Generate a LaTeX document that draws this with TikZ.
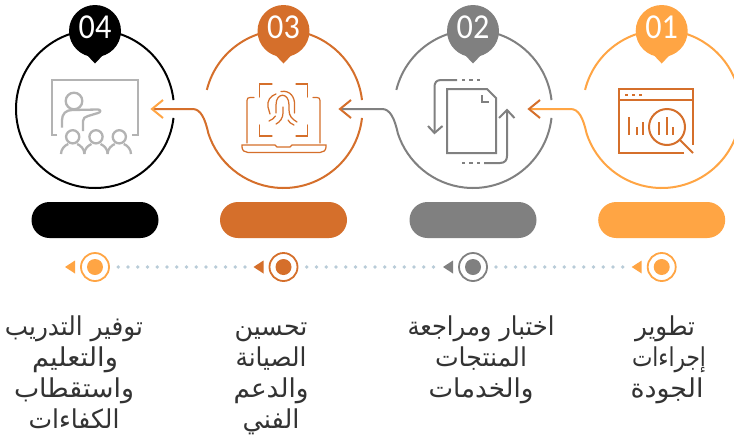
\documentclass[tikz,border=0pt]{standalone}
\usepackage{fontspec}
\usepackage{graphicx}
\usetikzlibrary{shapes.misc,calc}
\TeXXeTstate=1
\newfontfamily\arabicfont[Script=Arabic]{DejaVu Sans}
\newfontfamily\numfont{Carlito}
\definecolor{lightor}{HTML}{FFA544}
\definecolor{darkor}{HTML}{D56F2B}
\definecolor{midgray}{HTML}{808080}
\definecolor{icongray}{HTML}{B3B3B3}
\definecolor{dotc}{HTML}{B9CCD8}
\definecolor{txt}{HTML}{333333}
\tikzset{
  ring/.style={line width=2pt},
  pinball/.style={circle,minimum size=52pt,inner sep=0pt},
  pinnum/.style={text=white,inner sep=0pt,font=\numfont\fontsize{35}{35}\selectfont},
  pill/.style={rounded rectangle,minimum width=127pt,minimum height=36pt,inner sep=0pt},
  target/.style={circle,draw,line width=1.8pt,fill=white,minimum size=28pt,inner sep=0pt},
  coredot/.style={circle,minimum size=16pt,inner sep=0pt},
  arline/.style={inner sep=0pt,text=txt,anchor=base},
  chev/.style={line width=2pt,line join=miter},
  gicon/.style={line width=2.3pt,icongray,line join=miter},
  oicon/.style={line width=1.25pt,darkor,line cap=round},
  dicon/.style={line width=2pt,midgray},
  wicon/.style={line width=2pt,darkor},
  tdot/.style={fill=dotc},
}
\newsavebox\arbox
\newcommand{\ar}[2]{\sbox\arbox{\arabicfont\fontsize{26}{26}\selectfont #2}%
  \pgfmathsetmacro\arsx{#1/\the\wd\arbox}\scalebox{\arsx}[1]{\usebox\arbox}}
\newcommand{\ringtail}[4]{% name, cx, colour, tip x
  \coordinate (tip#1) at (#4,109);
  \draw[ring,#3] (#2,109) ++(194:79) arc[start angle=194,end angle=353.5,radius=79];
  \draw[ring,#3] (#2,109) ++(6.5:79) arc[start angle=6.5,end angle=162,radius=79]
     .. controls (#2-78.5,118) and (#2-83,109) .. (#2-91,109) -- (tip#1);
}
\newcommand{\chevron}[2]{% tip name, colour
  \draw[chev,#2] ($(#1)+(11,-9)$) -- (#1) -- ($(#1)+(11,9)$);
}
\newcommand{\pin}[3]{% name, cx, colour
  \fill[#3] (#2-9,54) -- (#2,63.5) -- (#2+9,54) -- cycle;
  \node[pinball,fill=#3] (pin#1) at (#2,31) {};
  \node[pinnum] (num#1) at (#2,27.5) {\scalebox{.92}[1]{0#1}};
}
\begin{document}
\begin{tikzpicture}[x=1pt,y=-1pt]
\useasboundingbox (0,0) rectangle (734,445);
\fill[white] (0,0) rectangle (734,445);

% ---- rings
\draw[ring,black] (95,109) ++(-6.5:79) arc[start angle=-6.5,end angle=-353.5,radius=79];
\ringtail{3}{283.5}{darkor}{152}
\ringtail{2}{473}{midgray}{340}
\ringtail{1}{661.7}{lightor}{529}
\chevron{tip3}{lightor}
\chevron{tip2}{darkor}
\chevron{tip1}{darkor}

% ---- pins
\pin{4}{95}{black}
\pin{3}{283.5}{darkor}
\pin{2}{473}{midgray}
\pin{1}{661.7}{lightor}

% ---- icon 04
\draw[gicon] (57,135) -- (52,135) -- (52,80) -- (138,80) -- (138,135) -- (132,135);
\draw[gicon] (74,101) circle[radius=8.3];
\draw[gicon,line join=round] (62,127.5) -- (62,120) .. controls (62,114) and (66,110) .. (72,110)
  -- (98,109.5) .. controls (101,109.5) and (101,112.5) .. (98,113) -- (88,116) .. controls (85,117) and (83,118) .. (83,121) -- (83,131);
\foreach \hx in {72.7,96,119.3}{
  \draw[gicon] (\hx,136.8) circle[radius=6.6];
  \draw[gicon] (\hx-11.7,154) .. controls (\hx-11.7,149) and (\hx-8,145.5) .. (\hx-4.5,144);
  \draw[gicon] (\hx+11.7,154) .. controls (\hx+11.7,149) and (\hx+8,145.5) .. (\hx+4.5,144);
}

% ---- icon 03
\begin{scope}[oicon]
\draw (254,97.5) -- (250,97.5) .. controls (248,97.5) and (247,98.5) .. (247,100.5) -- (247,143);
\draw (313,97.5) -- (317,97.5) .. controls (319,97.5) and (320,98.5) .. (320,100.5) -- (320,143);
\draw (242,145) -- (275,145) -- (277,147) -- (290,147) -- (292,145) -- (326,145) -- (326,147)
   .. controls (326,150.5) and (323,152.5) .. (320,152.5) -- (248,152.5) .. controls (245,152.5) and (242,150.5) .. (242,147) -- cycle;
\draw (259.5,97) -- (259.5,84) -- (272,84);
\draw (296,84) -- (307.5,84) -- (307.5,97);
\draw (259.5,125) -- (259.5,136) -- (272,136);
\draw (296,136) -- (307.5,136) -- (307.5,125);
\draw (276,94) .. controls (270,96) and (267,101) .. (268,107) -- (270,114);
\draw (281,91.5) .. controls (290,90) and (295,97) .. (294.5,105) -- (294.5,113);
\draw (276,113) -- (276,105) .. controls (276,92) and (289,92) .. (289,105) -- (289,110) .. controls (289,116) and (292,119) .. (297,122);
\draw (283,107) -- (283,113) .. controls (283,118) and (280,122) .. (276,124);
\draw (275.5,116) .. controls (274,118) and (272,120) .. (269,121);
\draw (288,120) .. controls (289,122) and (291,124) .. (294,125);
\end{scope}

% ---- icon 02
\begin{scope}[dicon]
\draw (447,89) -- (487,89) -- (496,98) -- (496,153) -- (447,153) -- cycle;
\draw (482,95) -- (482,101.5) -- (489,101.5);
\draw (457,80) -- (441,80) .. controls (436,80) and (434.5,83) .. (434.5,87) -- (434.5,132);
\draw (428,126) -- (434.5,133) -- (442.5,126);
\draw (462,80) -- (465,80) (469,80) -- (473,80) (477,80) -- (480,80);
\draw (484,163) -- (500,163) .. controls (505,163) and (507,160) .. (507,156) -- (507,111);
\draw (499,118) -- (507,110) -- (514.5,118);
\draw (462,163) -- (465,163) (469,163) -- (473,163) (477,163) -- (480,163);
\end{scope}

% ---- icon 01
\begin{scope}[wicon]
\draw (684,153) -- (619,153) -- (619,89) -- (693,89) -- (693,145);
\draw (619,99.5) -- (693,99.5);
\draw (625,94.5) -- (628,94.5) (632,94.5) -- (635,94.5) (639,94.5) -- (642,94.5);
\draw (629,117) -- (629,135) (637,127) -- (637,135) (643,122) -- (643,135);
\draw (667,127) circle[radius=18];
\draw (680,140) -- (693,153);
\draw (659,122) -- (659,135) (667,117) -- (667,135) (673,127) -- (673,135);
\end{scope}

% ---- pills
\node[pill,fill=black] (bar4) at (95,220) {};
\node[pill,fill=darkor] (bar3) at (283.5,220) {};
\node[pill,fill=midgray] (bar2) at (473,220) {};
\node[pill,fill=lightor] (bar1) at (661.7,220) {};

% ---- timeline
\foreach \s in {118.3,306.7,496}{
  \foreach \i in {0,...,13}{ \fill[tdot] (\s+9.75*\i,267) circle[radius=1.9]; }
}
\foreach \nm/\cx/\c in {4/95/lightor,3/283.5/darkor,2/473/midgray,1/661.7/lightor}{
  \node[target,draw=\c] (t\nm) at (\cx,267) {};
  \node[coredot,fill=\c] (core\nm) at (\cx,267) {};
  \fill[\c] (\cx-30,267) -- (\cx-20,260.5) -- (\cx-20,273.5) -- cycle;
}

% ---- labels
\node[arline] (a1) at (665,335) {\ar{60}{\beginR تطوير\endR}};
\node[arline] (a2) at (669,366) {\ar{74}{\beginR إجراءات\endR}};
\node[arline] (a3) at (667,397) {\ar{73}{\beginR الجودة\endR}};

\node[arline] (b1) at (481,335) {\ar{147}{\beginR اختبار ومراجعة\endR}};
\node[arline] (b2) at (481,366) {\ar{92}{\beginR المنتجات\endR}};
\node[arline] (b3) at (481,397) {\ar{105}{\beginR والخدمات\endR}};

\node[arline] (c1) at (271,335) {\ar{73}{\beginR تحسين\endR}};
\node[arline] (c2) at (271,366) {\ar{71}{\beginR الصيانة\endR}};
\node[arline] (c3) at (271,397) {\ar{75}{\beginR والدعم\endR}};
\node[arline] (c4) at (271,428) {\ar{57}{\beginR الفني\endR}};

\node[arline] (d1) at (74,335) {\ar{138}{\beginR توفير التدريب\endR}};
\node[arline] (d2) at (75,366) {\ar{86}{\beginR والتعليم\endR}};
\node[arline] (d3) at (74,397) {\ar{120}{\beginR واستقطاب\endR}};
\node[arline] (d4) at (74,428) {\ar{91}{\beginR الكفاءات\endR}};
\end{tikzpicture}
\end{document}
